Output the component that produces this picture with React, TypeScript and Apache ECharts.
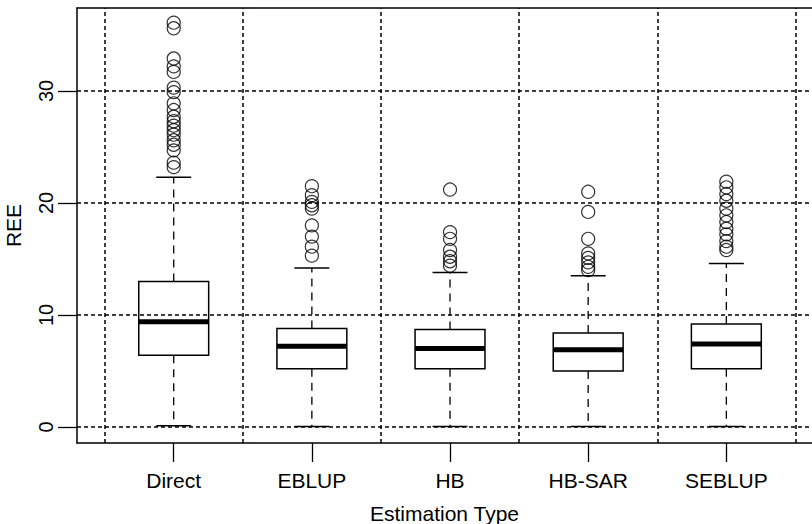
import React, { useEffect, useRef } from "react";
import * as echarts from "echarts";

const categories = ["Direct", "EBLUP", "HB", "HB-SAR", "SEBLUP"];
const lowerWhisker = [0.1, 0.05, 0.05, 0.05, 0.05];
const q1 = [6.4, 5.2, 5.2, 5.0, 5.2];
const median = [9.4, 7.2, 7.0, 6.9, 7.4];
const q3 = [13.0, 8.8, 8.7, 8.4, 9.2];
const upperWhisker = [22.3, 14.2, 13.8, 13.5, 14.6];

const outliersDirect = [36.1, 35.6, 32.9, 32.2, 31.7, 30.3, 29.9, 28.9, 28.3, 27.7, 27.3, 26.9, 26.5, 26.1, 25.6, 25.2, 24.7, 23.6, 23.2];
const outliersEBLUP = [21.5, 20.7, 20.1, 19.8, 19.5, 18.0, 17.0, 16.1, 15.3];
const outliersHB = [21.2, 17.4, 16.8, 15.8, 15.2, 14.8, 14.4];
const outliersHBSAR = [21.0, 19.2, 16.8, 15.5, 15.1, 14.7, 14.3, 14.0];
const outliersSEBLUP = [21.9, 21.4, 20.8, 20.2, 19.5, 18.9, 18.3, 17.7, 17.2, 16.6, 16.1, 15.8];

const yTicks = [0, 10, 20, 30];
const xTicks = [1, 2, 3, 4, 5];
const xGridValues = [0.5, 1.5, 2.5, 3.5, 4.5, 5.5];

const FONT = "'Liberation Sans', Arial, sans-serif";

export default function App() {
  const ref = useRef<HTMLDivElement>(null);
  useEffect(() => {
    if (!ref.current) return;
    const chart = echarts.init(ref.current, null, { renderer: "svg" });
    const allOutliers = [outliersDirect, outliersEBLUP, outliersHB, outliersHBSAR, outliersSEBLUP];
    const scatterData: number[][] = [];
    allOutliers.forEach((arr, i) => arr.forEach((v) => scatterData.push([i + 1, v])));
    const boxData = categories.map((c, i) => [i + 1, lowerWhisker[i], q1[i], median[i], q3[i], upperWhisker[i]]);

    const xMin = 0.3;
    const xMax = 5.62;

    chart.setOption({
      animation: false,
      backgroundColor: "#fff",
      textStyle: { fontFamily: FONT },
      grid: { left: 77, right: 0, top: 8, bottom: 81, containLabel: false, outerBoundsMode: "none" },
      xAxis: [
        {
          type: "value",
          min: xMin,
          max: xMax,
          position: "bottom",
          axisLine: { show: true, onZero: false, lineStyle: { color: "#000", width: 1.5 } },
          axisTick: { show: true, length: 19, customValues: xTicks, lineStyle: { color: "#000", width: 1.3 } },
          axisLabel: {
            show: true,
            customValues: xTicks,
            formatter: (v: number) => categories[Math.round(v) - 1] || "",
            fontSize: 21,
            color: "#000",
            fontFamily: FONT,
            margin: 27,
          },
          splitLine: { show: false },
          name: "Estimation Type",
          nameLocation: "middle",
          nameGap: 60,
          nameTextStyle: { fontSize: 21, color: "#000", fontFamily: FONT },
        },
        {
          type: "value",
          min: xMin,
          max: xMax,
          position: "top",
          axisLine: { show: true, onZero: false, lineStyle: { color: "#000", width: 1.5 } },
          axisTick: { show: false },
          axisLabel: { show: false },
          splitLine: { show: false },
        },
      ],
      yAxis: {
        type: "value",
        min: -1.43,
        max: 37.41,
        axisLine: { show: true, onZero: false, lineStyle: { color: "#000", width: 1.5 } },
        axisTick: { show: true, length: 19, customValues: yTicks, lineStyle: { color: "#000", width: 1.3 } },
        axisLabel: {
          show: true,
          customValues: yTicks,
          rotate: 90,
          fontSize: 20,
          color: "#000",
          fontFamily: FONT,
          margin: 21,
        },
        splitLine: { show: false },
        name: "REE",
        nameLocation: "middle",
        nameGap: 53,
        nameRotate: 90,
        nameTextStyle: { fontSize: 21, color: "#000", fontFamily: FONT },
      },
      series: [
        {
          type: "line",
          data: [],
          z: 1,
          silent: true,
          markLine: {
            silent: true,
            symbol: ["none", "none"],
            label: { show: false },
            lineStyle: { color: "#000", width: 1.5, type: [4, 3] },
            emphasis: { disabled: true },
            data: [
              ...yTicks.map((v) => ({ yAxis: v })),
              ...xGridValues.map((v) => ({ xAxis: v })),
            ],
          },
        },
        {
          type: "custom",
          z: 2,
          silent: true,
          data: boxData,
          encode: { x: 0, y: [1, 2, 3, 4, 5] },
          renderItem: (params: any, api: any) => {
            const x = api.value(0);
            const low = api.coord([x, api.value(1)]);
            const b1 = api.coord([x, api.value(2)]);
            const md = api.coord([x, api.value(3)]);
            const b3 = api.coord([x, api.value(4)]);
            const high = api.coord([x, api.value(5)]);
            const hb = api.size([0.253, 0])[0];
            const hs = hb / 2;
            const cx = low[0];
            const solid = { stroke: "#000", lineWidth: 1.5, fill: null };
            const dashed = { stroke: "#000", lineWidth: 1.3, lineDash: [8, 6], fill: null };
            return {
              type: "group",
              children: [
                { type: "line", shape: { x1: cx, y1: b1[1], x2: cx, y2: low[1] }, style: dashed },
                { type: "line", shape: { x1: cx, y1: b3[1], x2: cx, y2: high[1] }, style: dashed },
                { type: "line", shape: { x1: cx - hs, y1: low[1], x2: cx + hs, y2: low[1] }, style: solid },
                { type: "line", shape: { x1: cx - hs, y1: high[1], x2: cx + hs, y2: high[1] }, style: solid },
                {
                  type: "rect",
                  shape: { x: cx - hb, y: b3[1], width: 2 * hb, height: b1[1] - b3[1] },
                  style: { stroke: "#000", lineWidth: 1.5, fill: "#fff" },
                },
                { type: "line", shape: { x1: cx - hb, y1: md[1], x2: cx + hb, y2: md[1] }, style: { stroke: "#000", lineWidth: 5 } },
              ],
            };
          },
        },
        {
          type: "scatter",
          z: 3,
          silent: true,
          data: scatterData,
          symbol: "circle",
          symbolSize: 13,
          itemStyle: { color: "rgba(0,0,0,0)", borderColor: "#000", borderWidth: 1.2 },
        },
      ],
    });
    return () => chart.dispose();
  }, []);
  return <div ref={ref} style={{ position: "fixed", left: 0, top: 0, width: 812, height: 524 }} />;
}
